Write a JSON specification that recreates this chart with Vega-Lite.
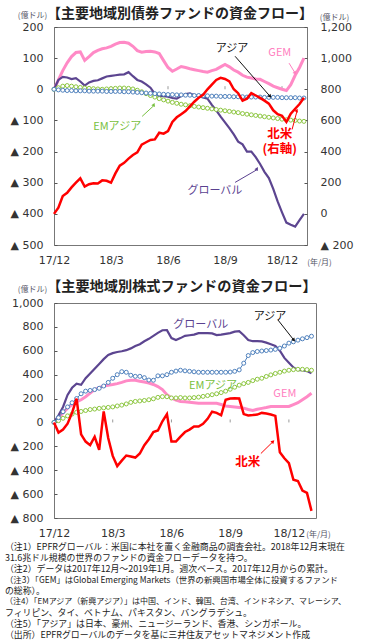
{
"$schema": "https://vega.github.io/schema/vega-lite/v6.json",
"padding": {"left": 5, "top": 6, "right": 2, "bottom": 0},
"columns": 1,
"spacing": 4,
"config": {
 "font": "Noto Sans CJK JP",
 "view": {"stroke": "#777", "strokeWidth": 1},
 "axis": {"labelFont": "DejaVu Sans", "labelFontSize": 11, "labelColor": "#333", "titleFont": "Noto Sans CJK JP", "titleFontSize": 8, "titleFontWeight": "normal", "titleColor": "#556", "grid": false, "labelOverlap": false, "tickColor": "#555"},
 "text": {"font": "Noto Sans CJK JP"}
},
"resolve": {"scale": {"color": "independent", "angle": "independent"}},
"datasets": {
"bond": [
{"w":0,"gem":0,"glb":0,"asia":0,"ema":0,"na":0},
{"w":1,"gem":30,"glb":30,"asia":-2,"ema":5,"na":40},
{"w":2,"gem":60,"glb":40,"asia":-3,"ema":10,"na":115},
{"w":3,"gem":85,"glb":38,"asia":-4,"ema":12,"na":135},
{"w":4,"gem":105,"glb":33,"asia":-4,"ema":10,"na":170},
{"w":5,"gem":118,"glb":36,"asia":-5,"ema":8,"na":200},
{"w":6,"gem":120,"glb":25,"asia":-5,"ema":6,"na":228},
{"w":7,"gem":93,"glb":12,"asia":-5,"ema":4,"na":175},
{"w":8,"gem":105,"glb":22,"asia":-6,"ema":3,"na":190},
{"w":9,"gem":118,"glb":27,"asia":-6,"ema":2,"na":197},
{"w":10,"gem":125,"glb":29,"asia":-6,"ema":1,"na":195},
{"w":11,"gem":130,"glb":35,"asia":-6,"ema":0,"na":215},
{"w":12,"gem":133,"glb":41,"asia":-7,"ema":1,"na":212},
{"w":13,"gem":138,"glb":43,"asia":-7,"ema":2,"na":200},
{"w":14,"gem":145,"glb":45,"asia":-7,"ema":3,"na":260},
{"w":15,"gem":150,"glb":47,"asia":-7,"ema":4,"na":310},
{"w":16,"gem":151,"glb":48,"asia":-8,"ema":4,"na":328},
{"w":17,"gem":148,"glb":55,"asia":-8,"ema":3,"na":355},
{"w":18,"gem":138,"glb":42,"asia":-9,"ema":1,"na":378},
{"w":19,"gem":124,"glb":30,"asia":-10,"ema":-3,"na":395},
{"w":20,"gem":119,"glb":25,"asia":-11,"ema":-8,"na":445},
{"w":21,"gem":121,"glb":16,"asia":-12,"ema":-14,"na":460},
{"w":22,"gem":122,"glb":5,"asia":-13,"ema":-20,"na":475},
{"w":23,"gem":120,"glb":-15,"asia":-14,"ema":-25,"na":478},
{"w":24,"gem":115,"glb":-22,"asia":-15,"ema":-30,"na":521},
{"w":25,"gem":92,"glb":-22,"asia":-16,"ema":-34,"na":515},
{"w":26,"gem":70,"glb":-24,"asia":-17,"ema":-38,"na":532},
{"w":27,"gem":58,"glb":-28,"asia":-17,"ema":-42,"na":590},
{"w":28,"gem":65,"glb":-30,"asia":-18,"ema":-45,"na":620},
{"w":29,"gem":73,"glb":-22,"asia":-18,"ema":-48,"na":640},
{"w":30,"gem":70,"glb":-15,"asia":-19,"ema":-50,"na":660},
{"w":31,"gem":66,"glb":-13,"asia":-19,"ema":-53,"na":690},
{"w":32,"gem":63,"glb":-19,"asia":-20,"ema":-55,"na":720},
{"w":33,"gem":60,"glb":-22,"asia":-20,"ema":-57,"na":745},
{"w":34,"gem":57,"glb":-26,"asia":-21,"ema":-59,"na":765},
{"w":35,"gem":55,"glb":-30,"asia":-21,"ema":-61,"na":800},
{"w":36,"gem":60,"glb":-50,"asia":-22,"ema":-63,"na":830},
{"w":37,"gem":64,"glb":-68,"asia":-22,"ema":-65,"na":860},
{"w":38,"gem":72,"glb":-88,"asia":-23,"ema":-67,"na":874},
{"w":39,"gem":80,"glb":-106,"asia":-23,"ema":-69,"na":866},
{"w":40,"gem":72,"glb":-125,"asia":-23,"ema":-71,"na":850},
{"w":41,"gem":62,"glb":-145,"asia":-24,"ema":-73,"na":800},
{"w":42,"gem":55,"glb":-168,"asia":-24,"ema":-75,"na":775},
{"w":43,"gem":45,"glb":-177,"asia":-24,"ema":-78,"na":727},
{"w":44,"gem":39,"glb":-200,"asia":-25,"ema":-80,"na":740},
{"w":45,"gem":36,"glb":-200,"asia":-25,"ema":-82,"na":775},
{"w":46,"gem":33,"glb":-218,"asia":-25,"ema":-84,"na":760},
{"w":47,"gem":32,"glb":-240,"asia":-25,"ema":-86,"na":745},
{"w":48,"gem":25,"glb":-265,"asia":-26,"ema":-88,"na":727},
{"w":49,"gem":18,"glb":-285,"asia":-26,"ema":-90,"na":708},
{"w":50,"gem":10,"glb":-320,"asia":-26,"ema":-92,"na":665},
{"w":51,"gem":5,"glb":-360,"asia":-26,"ema":-94,"na":640},
{"w":52,"gem":0,"glb":-395,"asia":-27,"ema":-96,"na":630},
{"w":53,"gem":-4,"glb":-428,"asia":-27,"ema":-98,"na":590},
{"w":54,"gem":15,"glb":-435,"asia":-27,"ema":-99,"na":643},
{"w":55,"gem":45,"glb":-441,"asia":-27,"ema":-100,"na":675},
{"w":56,"gem":70,"glb":-420,"asia":-28,"ema":-102,"na":705},
{"w":57,"gem":100,"glb":-400,"asia":-28,"ema":-103,"na":746}
],
"eq": [
{"w":0,"gem":0,"glb":0,"asia":0,"ema":0,"na":0},
{"w":1,"gem":40,"glb":60,"asia":40,"ema":15,"na":-85},
{"w":2,"gem":80,"glb":130,"asia":90,"ema":35,"na":-60},
{"w":3,"gem":120,"glb":230,"asia":130,"ema":55,"na":-10},
{"w":4,"gem":150,"glb":290,"asia":165,"ema":70,"na":80},
{"w":5,"gem":172,"glb":325,"asia":200,"ema":85,"na":200},
{"w":6,"gem":190,"glb":315,"asia":240,"ema":92,"na":-100},
{"w":7,"gem":215,"glb":370,"asia":262,"ema":100,"na":-160},
{"w":8,"gem":245,"glb":410,"asia":268,"ema":108,"na":-190},
{"w":9,"gem":275,"glb":450,"asia":275,"ema":112,"na":-120},
{"w":10,"gem":292,"glb":490,"asia":286,"ema":118,"na":-230},
{"w":11,"gem":305,"glb":530,"asia":305,"ema":122,"na":92},
{"w":12,"gem":312,"glb":565,"asia":335,"ema":126,"na":-130},
{"w":13,"gem":318,"glb":580,"asia":370,"ema":130,"na":-280},
{"w":14,"gem":325,"glb":590,"asia":400,"ema":138,"na":-365},
{"w":15,"gem":335,"glb":596,"asia":425,"ema":145,"na":-320},
{"w":16,"gem":348,"glb":605,"asia":420,"ema":155,"na":-277},
{"w":17,"gem":353,"glb":620,"asia":395,"ema":168,"na":-285},
{"w":18,"gem":353,"glb":640,"asia":386,"ema":176,"na":-294},
{"w":19,"gem":345,"glb":655,"asia":386,"ema":180,"na":-260},
{"w":20,"gem":338,"glb":680,"asia":375,"ema":184,"na":-190},
{"w":21,"gem":330,"glb":700,"asia":355,"ema":190,"na":-140},
{"w":22,"gem":318,"glb":725,"asia":353,"ema":198,"na":-80},
{"w":23,"gem":300,"glb":750,"asia":390,"ema":210,"na":-67},
{"w":24,"gem":275,"glb":772,"asia":390,"ema":216,"na":10},
{"w":25,"gem":232,"glb":773,"asia":400,"ema":215,"na":70},
{"w":26,"gem":205,"glb":706,"asia":420,"ema":205,"na":-160},
{"w":27,"gem":188,"glb":690,"asia":430,"ema":205,"na":-160},
{"w":28,"gem":176,"glb":706,"asia":437,"ema":208,"na":-118},
{"w":29,"gem":174,"glb":725,"asia":432,"ema":205,"na":-80},
{"w":30,"gem":170,"glb":730,"asia":428,"ema":205,"na":-60},
{"w":31,"gem":165,"glb":735,"asia":424,"ema":208,"na":-34},
{"w":32,"gem":160,"glb":748,"asia":420,"ema":212,"na":-34},
{"w":33,"gem":160,"glb":748,"asia":420,"ema":218,"na":-12},
{"w":34,"gem":160,"glb":748,"asia":420,"ema":225,"na":30},
{"w":35,"gem":160,"glb":745,"asia":420,"ema":232,"na":90},
{"w":36,"gem":160,"glb":731,"asia":420,"ema":240,"na":80},
{"w":37,"gem":150,"glb":735,"asia":420,"ema":250,"na":60},
{"w":38,"gem":138,"glb":742,"asia":420,"ema":262,"na":190},
{"w":39,"gem":134,"glb":748,"asia":422,"ema":278,"na":200},
{"w":40,"gem":130,"glb":760,"asia":428,"ema":295,"na":202},
{"w":41,"gem":126,"glb":764,"asia":440,"ema":312,"na":200},
{"w":42,"gem":120,"glb":730,"asia":496,"ema":325,"na":70},
{"w":43,"gem":108,"glb":690,"asia":560,"ema":335,"na":59},
{"w":44,"gem":101,"glb":680,"asia":585,"ema":350,"na":62},
{"w":45,"gem":110,"glb":680,"asia":594,"ema":362,"na":66},
{"w":46,"gem":118,"glb":678,"asia":598,"ema":370,"na":80},
{"w":47,"gem":125,"glb":668,"asia":602,"ema":385,"na":75},
{"w":48,"gem":133,"glb":655,"asia":606,"ema":398,"na":67},
{"w":49,"gem":134,"glb":640,"asia":612,"ema":410,"na":55},
{"w":50,"gem":134,"glb":600,"asia":622,"ema":420,"na":-250},
{"w":51,"gem":134,"glb":540,"asia":640,"ema":430,"na":-300},
{"w":52,"gem":134,"glb":500,"asia":664,"ema":437,"na":-340},
{"w":53,"gem":150,"glb":460,"asia":675,"ema":442,"na":-480},
{"w":54,"gem":165,"glb":437,"asia":689,"ema":445,"na":-490},
{"w":55,"gem":190,"glb":437,"asia":700,"ema":445,"na":-570},
{"w":56,"gem":215,"glb":430,"asia":710,"ema":442,"na":-590},
{"w":57,"gem":244,"glb":412,"asia":722,"ema":437,"na":-740}
],
"topArr": [
{"s":"asia","w":41.3,"v":106,"w2":49.3,"v2":-23},
{"s":"gem","w":53.6,"v":84,"w2":55.0,"v2":52},
{"s":"ema","w":20.1,"v":-87,"w2":22.8,"v2":-52},
{"s":"na","w":54.3,"v":-129,"w2":55.4,"v2":-71},
{"s":"glb","w":41.3,"v":-299,"w2":46.3,"v2":-258}
],
"botArr": [
{"s":"asia","w":49.6,"v":857,"w2":53.1,"v2":689},
{"s":"na","w":45.8,"v":-260,"w2":48.5,"v2":-160}
]
},
"concat": [
{
 "width": 253, "height": 218,
 "title": {"text": "【主要地域別債券ファンドの資金フロー】", "anchor": "start", "frame": "group", "fontSize": 14, "fontWeight": "bold", "color": "#222", "offset": -9.5, "dx": -7},
 "data": {"name": "bond"},
 "encoding": {"x": {"field": "w", "type": "quantitative", "scale": {"domain": [0, 57.7], "nice": false, "zero": false},
   "axis": {"values": [0, 13, 26, 39, 52], "labelExpr": "['17/12','18/3','18/6','18/9','18/12'][round(datum.value/13)]", "labelFlush": false, "labelOverlap": false, "ticks": false, "domain": false, "labelPadding": 9, "title": "(年/月)", "titleX": 265, "titleY": 17, "titleAlign": "center", "titleBaseline": "middle"}}},
 "layer": [
  {"layer": [
   {"data": {"values": [{}]}, "mark": {"type": "rule", "color": "#999"}, "encoding": {"x": {"datum": 0}, "x2": {"datum": 57.7}, "y": {"datum": 0, "type": "quantitative",
     "axis": {"values": [200, 100, 0, -100, -200, -300, -400, -500], "labelExpr": "datum.value < 0 ? '▲ ' + format(-datum.value, ',') : format(datum.value, ',')", "ticks": true, "tickSize": -3, "domain": false, "labelPadding": 14, "labelOverlap": false, "title": "(億ドル)", "titleAngle": 0, "titleX": -22, "titleY": -12, "titleAlign": "center", "titleBaseline": "middle"}}}},
   {"data": {"values": [{"w": 13}, {"w": 26}, {"w": 39}, {"w": 52}]}, "mark": {"type": "rule", "color": "#999"}, "encoding": {"y": {"datum": 0, "type": "quantitative",
     "axis": {"values": [200, 100, 0, -100, -200, -300, -400, -500], "labelExpr": "datum.value < 0 ? '▲ ' + format(-datum.value, ',') : format(datum.value, ',')", "ticks": true, "tickSize": -3, "domain": false, "labelPadding": 14, "labelOverlap": false, "title": "(億ドル)", "titleAngle": 0, "titleX": -22, "titleY": -12, "titleAlign": "center", "titleBaseline": "middle"}}, "y2": {"datum": 10}}},
   {"mark": {"type": "line", "color": "#ff8ac6", "strokeWidth": 3}, "encoding": {"y": {"field": "gem", "type": "quantitative", "scale": {"domain": [-500, 200], "nice": false, "zero": false},
     "axis": {"values": [200, 100, 0, -100, -200, -300, -400, -500], "labelExpr": "datum.value < 0 ? '▲ ' + format(-datum.value, ',') : format(datum.value, ',')", "ticks": true, "tickSize": -3, "domain": false, "labelPadding": 14, "labelOverlap": false, "title": "(億ドル)", "titleAngle": 0, "titleX": -22, "titleY": -12, "titleAlign": "center", "titleBaseline": "middle"}}}},
   {"mark": {"type": "line", "color": "#5c4590", "strokeWidth": 2.2}, "encoding": {"y": {"field": "glb", "type": "quantitative",
     "axis": {"values": [200, 100, 0, -100, -200, -300, -400, -500], "labelExpr": "datum.value < 0 ? '▲ ' + format(-datum.value, ',') : format(datum.value, ',')", "ticks": true, "tickSize": -3, "domain": false, "labelPadding": 14, "labelOverlap": false, "title": "(億ドル)", "titleAngle": 0, "titleX": -22, "titleY": -12, "titleAlign": "center", "titleBaseline": "middle"}}}},
   {"mark": {"type": "line", "color": "#8cc63f", "strokeWidth": 1, "point": {"filled": true, "fill": "white", "stroke": "#8cc63f", "strokeWidth": 1, "size": 16}}, "encoding": {"y": {"field": "ema", "type": "quantitative",
     "axis": {"values": [200, 100, 0, -100, -200, -300, -400, -500], "labelExpr": "datum.value < 0 ? '▲ ' + format(-datum.value, ',') : format(datum.value, ',')", "ticks": true, "tickSize": -3, "domain": false, "labelPadding": 14, "labelOverlap": false, "title": "(億ドル)", "titleAngle": 0, "titleX": -22, "titleY": -12, "titleAlign": "center", "titleBaseline": "middle"}}}},
   {"mark": {"type": "line", "color": "#4f81bd", "strokeWidth": 1, "point": {"filled": true, "fill": "white", "stroke": "#4f81bd", "strokeWidth": 1, "size": 16}}, "encoding": {"y": {"field": "asia", "type": "quantitative",
     "axis": {"values": [200, 100, 0, -100, -200, -300, -400, -500], "labelExpr": "datum.value < 0 ? '▲ ' + format(-datum.value, ',') : format(datum.value, ',')", "ticks": true, "tickSize": -3, "domain": false, "labelPadding": 14, "labelOverlap": false, "title": "(億ドル)", "titleAngle": 0, "titleX": -22, "titleY": -12, "titleAlign": "center", "titleBaseline": "middle"}}}},
   {"data": {"values": [
     {"s":"asia","t":"アジア","w":40.6,"v":129},
     {"s":"gem","t":"GEM","w":51.5,"v":116},
     {"s":"ema","t":"EMアジア","w":14.4,"v":-122},
     {"s":"glb","t":"グローバル","w":36.7,"v":-325}]},
    "mark": {"type": "text", "fontSize": 11}, "encoding": {"y": {"field": "v", "type": "quantitative",
     "axis": {"values": [200, 100, 0, -100, -200, -300, -400, -500], "labelExpr": "datum.value < 0 ? '▲ ' + format(-datum.value, ',') : format(datum.value, ',')", "ticks": true, "tickSize": -3, "domain": false, "labelPadding": 14, "labelOverlap": false, "title": "(億ドル)", "titleAngle": 0, "titleX": -22, "titleY": -12, "titleAlign": "center", "titleBaseline": "middle"}}, "text": {"field": "t"},
     "color": {"field": "s", "type": "nominal", "scale": {"domain": ["gem", "glb", "asia", "ema", "na"], "range": ["#ff80c0", "#5a4190", "#111111", "#78c040", "#ff0000"]}, "legend": null}}},
   {"data": {"values": [
     {"s":"na","t":"北米","w":51.5,"v":-142},
     {"s":"na","t":"(右軸)","w":51.5,"v":-193}]},
    "mark": {"type": "text", "fontSize": 12.5, "fontWeight": "bold"}, "encoding": {"y": {"field": "v", "type": "quantitative",
     "axis": {"values": [200, 100, 0, -100, -200, -300, -400, -500], "labelExpr": "datum.value < 0 ? '▲ ' + format(-datum.value, ',') : format(datum.value, ',')", "ticks": true, "tickSize": -3, "domain": false, "labelPadding": 14, "labelOverlap": false, "title": "(億ドル)", "titleAngle": 0, "titleX": -22, "titleY": -12, "titleAlign": "center", "titleBaseline": "middle"}}, "text": {"field": "t"},
     "color": {"field": "s", "type": "nominal", "legend": null}}},
   {"data": {"name": "topArr"}, "mark": {"type": "rule", "strokeWidth": 1}, "encoding": {"x2": {"field": "w2"}, "y": {"field": "v", "type": "quantitative",
     "axis": {"values": [200, 100, 0, -100, -200, -300, -400, -500], "labelExpr": "datum.value < 0 ? '▲ ' + format(-datum.value, ',') : format(datum.value, ',')", "ticks": true, "tickSize": -3, "domain": false, "labelPadding": 14, "labelOverlap": false, "title": "(億ドル)", "titleAngle": 0, "titleX": -22, "titleY": -12, "titleAlign": "center", "titleBaseline": "middle"}}, "y2": {"field": "v2"}, "color": {"field": "s", "type": "nominal", "legend": null}}},
   {"data": {"name": "topArr"}, "mark": {"type": "point", "shape": "triangle-up", "filled": true, "size": 16, "opacity": 1},
    "encoding": {"x": {"field": "w2", "type": "quantitative",
      "axis": {"values": [0, 13, 26, 39, 52], "labelExpr": "['17/12','18/3','18/6','18/9','18/12'][round(datum.value/13)]", "labelFlush": false, "labelOverlap": false, "ticks": false, "domain": false, "labelPadding": 9, "title": "(年/月)", "titleX": 265, "titleY": 17, "titleAlign": "center", "titleBaseline": "middle"}},
     "y": {"field": "v2", "type": "quantitative",
     "axis": {"values": [200, 100, 0, -100, -200, -300, -400, -500], "labelExpr": "datum.value < 0 ? '▲ ' + format(-datum.value, ',') : format(datum.value, ',')", "ticks": true, "tickSize": -3, "domain": false, "labelPadding": 14, "labelOverlap": false, "title": "(億ドル)", "titleAngle": 0, "titleX": -22, "titleY": -12, "titleAlign": "center", "titleBaseline": "middle"}}, "color": {"field": "s", "type": "nominal", "legend": null},
     "angle": {"field": "s", "type": "nominal", "scale": {"domain": ["asia", "gem", "ema", "na", "glb"], "range": [139, 149, 47, 15, 59]}, "legend": null}}}
  ]},
  {"mark": {"type": "line", "color": "#ff0000", "strokeWidth": 2.5}, "encoding": {"y": {"field": "na", "type": "quantitative", "scale": {"domain": [-200, 1200], "nice": false, "zero": false},
    "axis": {"orient": "right", "values": [1200, 1000, 800, 600, 400, 200, 0, -200], "labelExpr": "datum.value < 0 ? '▲ ' + format(-datum.value, ',') : format(datum.value, ',')", "ticks": true, "tickSize": -3, "domain": false, "labelPadding": 16, "labelOverlap": false, "title": "(億ドル)", "titleAngle": 0, "titleX": 27, "titleY": -10, "titleAlign": "center", "titleBaseline": "middle"}}}}
 ],
 "resolve": {"scale": {"y": "independent"}}
},
{
 "width": 262, "height": 215,
 "title": {"text": ["", "【主要地域別株式ファンドの資金フロー】"], "lineHeight": 8, "anchor": "start", "frame": "group", "fontSize": 14.2, "fontWeight": "bold", "color": "#222", "offset": -9.5, "dx": -7},
 "data": {"name": "eq"},
 "encoding": {"x": {"field": "w", "type": "quantitative", "scale": {"domain": [0, 58], "nice": false, "zero": false},
   "axis": {"values": [0, 13, 26, 39, 52], "labelExpr": "['17/12','18/3','18/6','18/9','18/12'][round(datum.value/13)]", "labelFlush": false, "labelOverlap": false, "ticks": false, "domain": false, "labelPadding": 9, "title": "(年/月)", "titleX": 264, "titleY": 16, "titleAlign": "center", "titleBaseline": "middle"}}},
 "layer": [
  {"data": {"values": [{}]}, "mark": {"type": "rule", "color": "#999"}, "encoding": {"x": {"datum": 0}, "x2": {"datum": 58}, "y": {"datum": 0, "type": "quantitative",
    "axis": {"values": [1000, 800, 600, 400, 200, 0, -200, -400, -600, -800], "labelExpr": "datum.value < 0 ? '▲ ' + format(-datum.value, ',') : format(datum.value, ',')", "ticks": true, "tickSize": -3, "domain": false, "labelPadding": 14, "labelOverlap": false, "title": "(億ドル)", "titleAngle": 0, "titleX": -22, "titleY": -14, "titleAlign": "center", "titleBaseline": "middle"}}}},
  {"data": {"values": [{"w": 13}, {"w": 26}, {"w": 39}, {"w": 52}]}, "mark": {"type": "rule", "color": "#999"}, "encoding": {"y": {"datum": 0, "type": "quantitative",
    "axis": {"values": [1000, 800, 600, 400, 200, 0, -200, -400, -600, -800], "labelExpr": "datum.value < 0 ? '▲ ' + format(-datum.value, ',') : format(datum.value, ',')", "ticks": true, "tickSize": -3, "domain": false, "labelPadding": 14, "labelOverlap": false, "title": "(億ドル)", "titleAngle": 0, "titleX": -22, "titleY": -14, "titleAlign": "center", "titleBaseline": "middle"}}, "y2": {"datum": 25}}},
  {"mark": {"type": "line", "color": "#ff8ac6", "strokeWidth": 3}, "encoding": {"y": {"field": "gem", "type": "quantitative", "scale": {"domain": [-800, 1000], "nice": false, "zero": false},
    "axis": {"values": [1000, 800, 600, 400, 200, 0, -200, -400, -600, -800], "labelExpr": "datum.value < 0 ? '▲ ' + format(-datum.value, ',') : format(datum.value, ',')", "ticks": true, "tickSize": -3, "domain": false, "labelPadding": 14, "labelOverlap": false, "title": "(億ドル)", "titleAngle": 0, "titleX": -22, "titleY": -14, "titleAlign": "center", "titleBaseline": "middle"}}}},
  {"mark": {"type": "line", "color": "#5c4590", "strokeWidth": 2.2}, "encoding": {"y": {"field": "glb", "type": "quantitative",
    "axis": {"values": [1000, 800, 600, 400, 200, 0, -200, -400, -600, -800], "labelExpr": "datum.value < 0 ? '▲ ' + format(-datum.value, ',') : format(datum.value, ',')", "ticks": true, "tickSize": -3, "domain": false, "labelPadding": 14, "labelOverlap": false, "title": "(億ドル)", "titleAngle": 0, "titleX": -22, "titleY": -14, "titleAlign": "center", "titleBaseline": "middle"}}}},
  {"mark": {"type": "line", "color": "#8cc63f", "strokeWidth": 1, "point": {"filled": true, "fill": "white", "stroke": "#8cc63f", "strokeWidth": 1, "size": 16}}, "encoding": {"y": {"field": "ema", "type": "quantitative",
    "axis": {"values": [1000, 800, 600, 400, 200, 0, -200, -400, -600, -800], "labelExpr": "datum.value < 0 ? '▲ ' + format(-datum.value, ',') : format(datum.value, ',')", "ticks": true, "tickSize": -3, "domain": false, "labelPadding": 14, "labelOverlap": false, "title": "(億ドル)", "titleAngle": 0, "titleX": -22, "titleY": -14, "titleAlign": "center", "titleBaseline": "middle"}}}},
  {"mark": {"type": "line", "color": "#4f81bd", "strokeWidth": 1, "point": {"filled": true, "fill": "white", "stroke": "#4f81bd", "strokeWidth": 1, "size": 16}}, "encoding": {"y": {"field": "asia", "type": "quantitative",
    "axis": {"values": [1000, 800, 600, 400, 200, 0, -200, -400, -600, -800], "labelExpr": "datum.value < 0 ? '▲ ' + format(-datum.value, ',') : format(datum.value, ',')", "ticks": true, "tickSize": -3, "domain": false, "labelPadding": 14, "labelOverlap": false, "title": "(億ドル)", "titleAngle": 0, "titleX": -22, "titleY": -14, "titleAlign": "center", "titleBaseline": "middle"}}}},
  {"mark": {"type": "line", "color": "#ff0000", "strokeWidth": 2.5}, "encoding": {"y": {"field": "na", "type": "quantitative",
    "axis": {"values": [1000, 800, 600, 400, 200, 0, -200, -400, -600, -800], "labelExpr": "datum.value < 0 ? '▲ ' + format(-datum.value, ',') : format(datum.value, ',')", "ticks": true, "tickSize": -3, "domain": false, "labelPadding": 14, "labelOverlap": false, "title": "(億ドル)", "titleAngle": 0, "titleX": -22, "titleY": -14, "titleAlign": "center", "titleBaseline": "middle"}}}},
  {"data": {"values": [
    {"s":"glb","t":"グローバル","w":32.5,"v":815},
    {"s":"asia","t":"アジア","w":47.8,"v":882},
    {"s":"ema","t":"EMアジア","w":35.2,"v":302},
    {"s":"gem","t":"GEM","w":51.1,"v":235}]},
   "mark": {"type": "text", "fontSize": 11}, "encoding": {"y": {"field": "v", "type": "quantitative",
    "axis": {"values": [1000, 800, 600, 400, 200, 0, -200, -400, -600, -800], "labelExpr": "datum.value < 0 ? '▲ ' + format(-datum.value, ',') : format(datum.value, ',')", "ticks": true, "tickSize": -3, "domain": false, "labelPadding": 14, "labelOverlap": false, "title": "(億ドル)", "titleAngle": 0, "titleX": -22, "titleY": -14, "titleAlign": "center", "titleBaseline": "middle"}}, "text": {"field": "t"},
    "color": {"field": "s", "type": "nominal", "scale": {"domain": ["gem", "glb", "asia", "ema", "na"], "range": ["#ff80c0", "#5a4190", "#111111", "#78c040", "#ff0000"]}, "legend": null}}},
  {"data": {"values": [{"s":"na","t":"北米","w":42.9,"v":-328}]},
   "mark": {"type": "text", "fontSize": 12.5, "fontWeight": "bold"}, "encoding": {"y": {"field": "v", "type": "quantitative",
    "axis": {"values": [1000, 800, 600, 400, 200, 0, -200, -400, -600, -800], "labelExpr": "datum.value < 0 ? '▲ ' + format(-datum.value, ',') : format(datum.value, ',')", "ticks": true, "tickSize": -3, "domain": false, "labelPadding": 14, "labelOverlap": false, "title": "(億ドル)", "titleAngle": 0, "titleX": -22, "titleY": -14, "titleAlign": "center", "titleBaseline": "middle"}}, "text": {"field": "t"}, "color": {"field": "s", "type": "nominal", "legend": null}}},
  {"data": {"name": "botArr"}, "mark": {"type": "rule", "strokeWidth": 1}, "encoding": {"x2": {"field": "w2"}, "y": {"field": "v", "type": "quantitative",
    "axis": {"values": [1000, 800, 600, 400, 200, 0, -200, -400, -600, -800], "labelExpr": "datum.value < 0 ? '▲ ' + format(-datum.value, ',') : format(datum.value, ',')", "ticks": true, "tickSize": -3, "domain": false, "labelPadding": 14, "labelOverlap": false, "title": "(億ドル)", "titleAngle": 0, "titleX": -22, "titleY": -14, "titleAlign": "center", "titleBaseline": "middle"}}, "y2": {"field": "v2"}, "color": {"field": "s", "type": "nominal", "legend": null}}},
  {"data": {"name": "botArr"}, "mark": {"type": "point", "shape": "triangle-up", "filled": true, "size": 16, "opacity": 1},
   "encoding": {"x": {"field": "w2", "type": "quantitative",
     "axis": {"values": [0, 13, 26, 39, 52], "labelExpr": "['17/12','18/3','18/6','18/9','18/12'][round(datum.value/13)]", "labelFlush": false, "labelOverlap": false, "ticks": false, "domain": false, "labelPadding": 9, "title": "(年/月)", "titleX": 264, "titleY": 16, "titleAlign": "center", "titleBaseline": "middle"}},
    "y": {"field": "v2", "type": "quantitative",
    "axis": {"values": [1000, 800, 600, 400, 200, 0, -200, -400, -600, -800], "labelExpr": "datum.value < 0 ? '▲ ' + format(-datum.value, ',') : format(datum.value, ',')", "ticks": true, "tickSize": -3, "domain": false, "labelPadding": 14, "labelOverlap": false, "title": "(億ドル)", "titleAngle": 0, "titleX": -22, "titleY": -14, "titleAlign": "center", "titleBaseline": "middle"}}, "color": {"field": "s", "type": "nominal", "legend": null},
    "angle": {"field": "s", "type": "nominal", "scale": {"domain": ["asia", "na"], "range": [141, 45]}, "legend": null}}}
 ]
},
{
 "width": 350, "height": 90,
 "view": {"stroke": null},
 "data": {"values": [
  {"i":0,"t":"（注1）EPFRグローバル：米国に本社を置く金融商品の調査会社。2018年12月末現在"},
  {"i":1,"t":"　　　 31.6兆ドル規模の世界のファンドの資金フローデータを持つ。"},
  {"i":2,"t":"（注2）データは2017年12月～2019年1月。週次ベース。2017年12月からの累計。"},
  {"i":3,"t":"（注3）「GEM」はGlobal Emerging Markets（世界の新興国市場全体に投資するファンド"},
  {"i":4,"t":"　　　 の総称）。"},
  {"i":5,"t":"（注4）「EMアジア（新興アジア）」は中国、インド、韓国、台湾、インドネシア、マレーシア、"},
  {"i":6,"t":"　　　 フィリピン、タイ、ベトナム、パキスタン、バングラデシュ。"},
  {"i":7,"t":"（注5）「アジア」は日本、豪州、ニュージーランド、香港、シンガポール。"},
  {"i":8,"t":"（出所）EPFRグローバルのデータを基に三井住友アセットマネジメント作成"}
 ]},
 "encoding": {"x": {"datum": 0, "type": "quantitative", "scale": {"domain": [0, 1]}, "axis": null},
  "y": {"field": "i", "type": "quantitative", "scale": {"domain": [0, 8.2], "reverse": true, "nice": false}, "axis": null},
  "text": {"field": "t"}},
 "layer": [
  {"transform": [{"filter": "datum.i != 5 && datum.i != 3"}], "mark": {"type": "text", "align": "left", "baseline": "middle", "fontSize": 8.9, "color": "#222", "dx": -49}},
  {"transform": [{"filter": "datum.i == 3"}], "mark": {"type": "text", "align": "left", "baseline": "middle", "fontSize": 8.4, "color": "#222", "dx": -49}},
  {"transform": [{"filter": "datum.i == 5"}], "mark": {"type": "text", "align": "left", "baseline": "middle", "fontSize": 8.0, "color": "#222", "dx": -49}}
 ]
}
]
}
